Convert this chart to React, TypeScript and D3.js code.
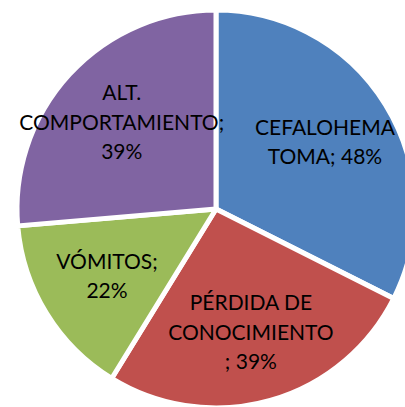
import React from 'react';
import * as d3 from 'd3';

const categories = ['CEFALOHEMATOMA', 'PÉRDIDA DE CONOCIMIENTO', 'VÓMITOS', 'ALT. COMPORTAMIENTO'];
const values = [48, 39, 22, 39];
const colors = ['#4F81BD', '#C0504D', '#9BBB59', '#8064A2'];
// how the data labels wrap in the chart
const labelLines = [
  ['CEFALOHEMA', 'TOMA; 48%'],
  ['PÉRDIDA DE', 'CONOCIMIENTO', '; 39%'],
  ['VÓMITOS;', '22%'],
  ['ALT.', 'COMPORTAMIENTO;', '39%'],
];

const App = () => {
  const width = 405, height = 407;
  const cx = 216, cy = 209, radius = 199;
  const lineH = 29.5;

  const pie = d3.pie<number>().sort(null).value(d => d);
  const arc = d3.arc<d3.PieArcDatum<number>>().innerRadius(0).outerRadius(radius);
  const labelArc = d3.arc<d3.PieArcDatum<number>>().innerRadius(128).outerRadius(128);
  const arcs = pie(values);

  return (
    <svg width={width} height={height} style={{ position: 'absolute', left: 0, top: 0, background: '#fff' }}>
      <g transform={`translate(${cx},${cy})`}>
        {arcs.map((d, i) => (
          <path key={categories[i]} d={arc(d) || ''} fill={colors[i]} stroke="#fff" strokeWidth={5} strokeLinejoin="round" />
        ))}
        {arcs.map((d, i) => {
          const [x, y] = labelArc.centroid(d);
          const lines = labelLines[i];
          const y0 = y - ((lines.length - 1) * lineH) / 2;
          return (
            <text key={'l' + i} textAnchor="middle" fontFamily="Lato, 'Open Sans', sans-serif" fontSize={21} fill="#000">
              {lines.map((t, j) => (
                <tspan key={j} x={x} y={y0 + j * lineH} dy="0.35em">{t}</tspan>
              ))}
            </text>
          );
        })}
      </g>
    </svg>
  );
};

export default App;
